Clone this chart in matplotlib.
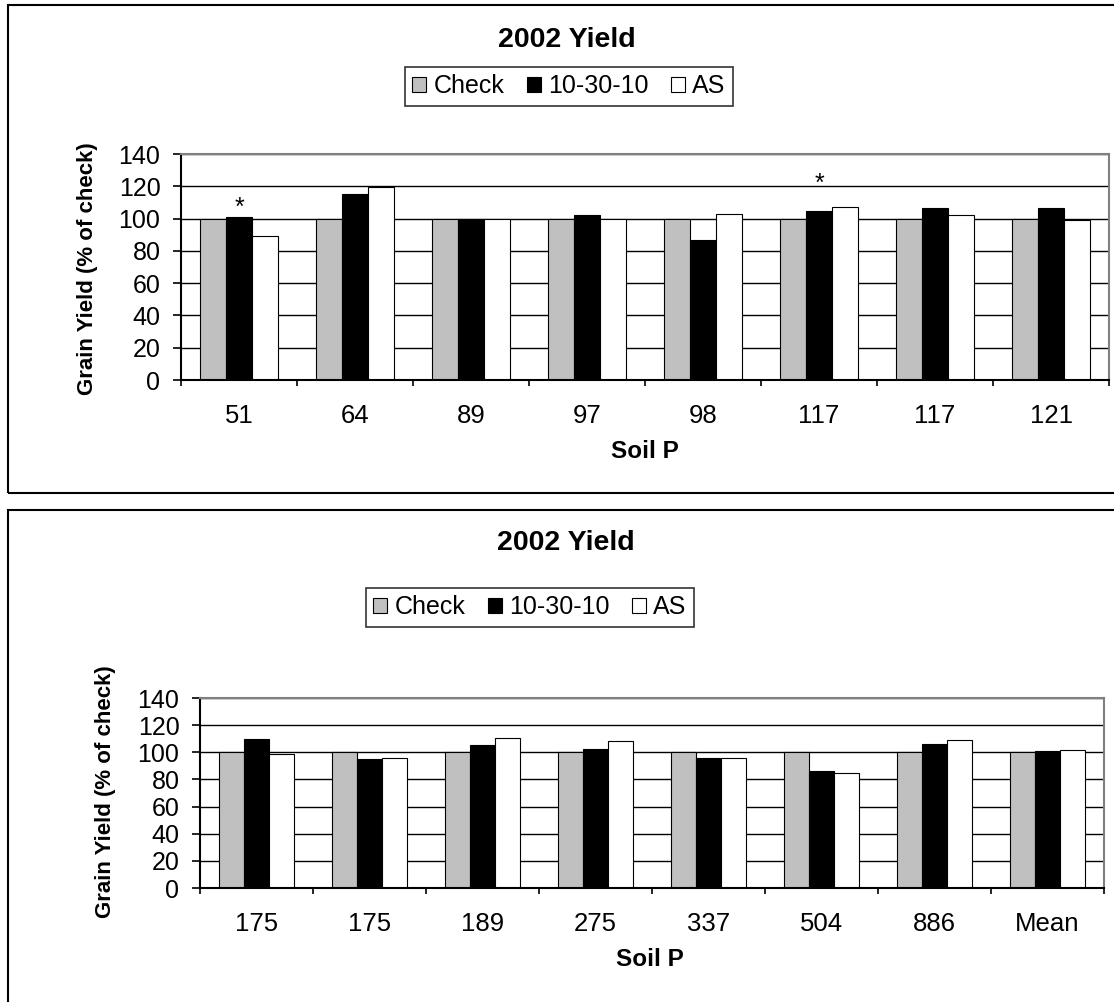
import matplotlib
matplotlib.use("Agg")
import matplotlib.pyplot as plt
import matplotlib.patches as mpatches
import numpy as np

plt.rcParams["font.family"] = ["Liberation Sans", "DejaVu Sans"]

series_names = ["Check", "10-30-10", "AS"]
series_colors = ["#c0c0c0", "#000000", "#ffffff"]

# top chart
top_cats = ["51", "64", "89", "97", "98", "117", "117", "121"]
top_check = [100, 100, 100, 100, 100, 100, 100, 100]
top_npk = [101, 115, 99.5, 102, 87, 105, 106.5, 106.5]
top_as = [89, 119.5, 100, 100, 103, 107, 102, 99]
# significance marks: group index and height
star_groups = [0, 5]
star_y = [102, 117]

# bottom chart
bot_cats = ["175", "175", "189", "275", "337", "504", "886", "Mean"]
bot_check = [100, 100, 100, 100, 100, 100, 100, 100]
bot_npk = [109.6, 95, 105.2, 102.3, 95.6, 86, 105.9, 101]
bot_as = [98.4, 95.5, 110.2, 108, 96.1, 85, 109.4, 102]

W, H = 1114, 1002
fig = plt.figure(figsize=(W / 100, H / 100), dpi=100)


def px_x(x):
    return x / W


def px_y(y):
    return 1 - y / H


def panel(box, cats, series, title, title_xy, legend_xy, ylab_xy, xlab_xy):
    left, top, right, bottom = box
    ax = fig.add_axes([px_x(left), px_y(bottom), (right - left) / W, (bottom - top) / H])
    x = np.arange(len(cats))
    w = 1 / 4.5
    bars = []
    for k, vals in enumerate(series):
        b = ax.bar(x + (k - 1) * w, vals, width=w, color=series_colors[k],
                   edgecolor="black", linewidth=0.8, zorder=2, label=series_names[k])
        bars.append(b)

    ax.set_xlim(-0.5, len(cats) - 0.5)
    ax.set_ylim(0, 140)
    ax.set_yticks(range(0, 141, 20))
    ax.yaxis.grid(True, color="black", linewidth=1.0)
    ax.set_axisbelow(True)

    ax.set_xticks(x)
    ax.set_xticklabels(cats, fontsize=18.5)
    ax.set_xticks(np.arange(-0.5, len(cats), 1), minor=True)
    ax.tick_params(axis="x", which="major", length=0, pad=17)
    ax.tick_params(axis="x", which="minor", length=4.5, width=1.2, direction="out")
    ax.tick_params(axis="y", length=5.8, width=1.2, direction="out", pad=9, labelsize=18)

    for side in ["left", "bottom"]:
        ax.spines[side].set_color("black")
        ax.spines[side].set_linewidth(1.5)
    for side in ["top", "right"]:
        ax.spines[side].set_color("#808080")
        ax.spines[side].set_linewidth(1.5)

    fig.text(px_x(title_xy[0]), px_y(title_xy[1]), title, ha="center", va="center",
             fontsize=20.5, fontweight="bold")
    fig.text(px_x(ylab_xy[0]), px_y(ylab_xy[1]), "Grain Yield (% of check)",
             rotation=90, ha="center", va="center", fontsize=16, fontweight="bold")
    fig.text(px_x(xlab_xy[0]), px_y(xlab_xy[1]), "Soil P", ha="center", va="center",
             fontsize=17.5, fontweight="bold")

    leg = fig.legend(handles=bars, labels=series_names, loc="center",
                     bbox_to_anchor=(px_x(legend_xy[0]), px_y(legend_xy[1])),
                     ncol=3, fontsize=18, frameon=True, fancybox=False,
                     handlelength=0.55, handleheight=0.55, handletextpad=0.3,
                     columnspacing=0.9, borderpad=0.3, borderaxespad=0)
    leg.get_frame().set_edgecolor("black")
    leg.get_frame().set_linewidth(1.2)
    return ax


ax1 = panel((181, 154, 1109, 380), top_cats, [top_check, top_npk, top_as],
            "2002 Yield", (567, 40), (569, 86), (88, 269), (645, 452))
for g, yv in zip(star_groups, star_y):
    ax1.text(g, yv, "*", ha="center", va="baseline", fontsize=18, zorder=3)

ax2 = panel((200, 698, 1104, 888), bot_cats, [bot_check, bot_npk, bot_as],
            "2002 Yield", (566, 543), (530, 607), (105, 792), (650, 960))

# outer frames around each chart
for top, bottom in [(5, 493), (510, 1010)]:
    r = mpatches.Rectangle((px_x(8), px_y(bottom)), (W + 20) / W, (bottom - top) / H,
                           transform=fig.transFigure, fill=False,
                           edgecolor="black", linewidth=1.5)
    fig.patches.append(r)

fig.savefig("out.png", dpi=100, facecolor="white")
